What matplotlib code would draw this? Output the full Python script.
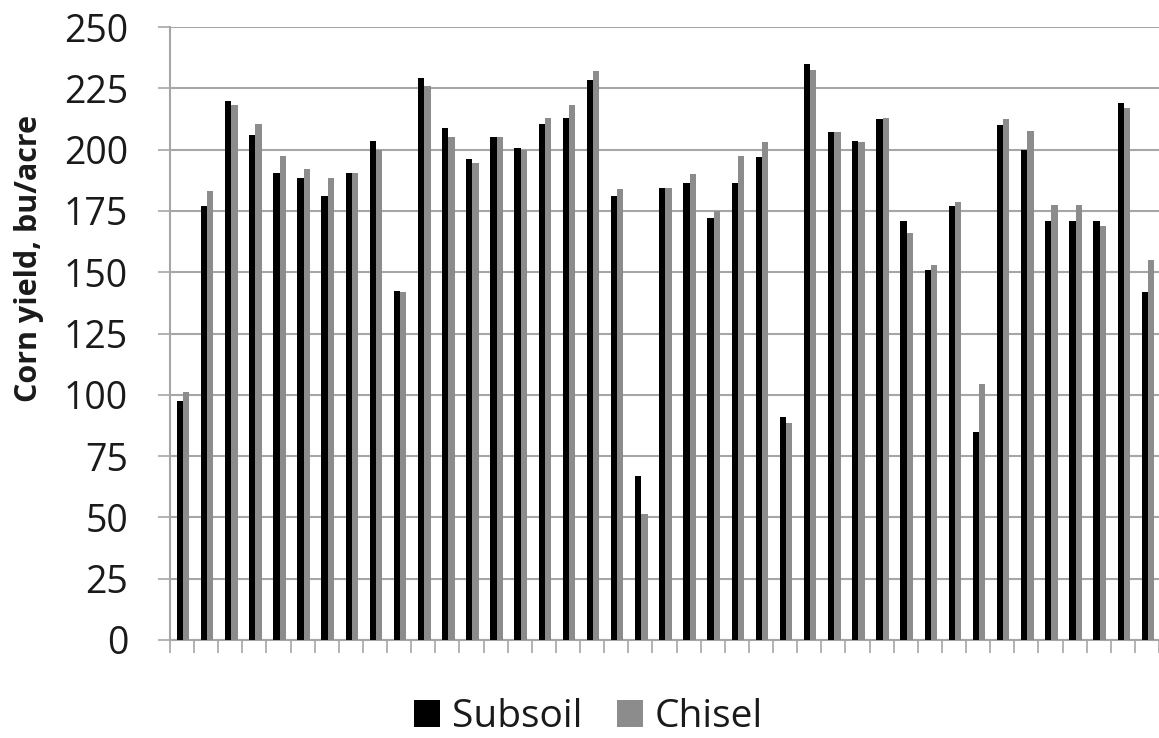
import matplotlib

matplotlib.use("Agg")
import matplotlib.pyplot as plt  # noqa: E402
import numpy as np  # noqa: E402

plt.rcParams["font.family"] = ["Open Sans", "DejaVu Sans"]

# valores (bu/acre), um par por local
subsoil = [97.5, 177, 220, 206, 190.5, 188.5, 181, 190.5, 203.5, 142.5,
           229, 209, 196, 205, 200.5, 210.5, 213, 228.5, 181, 67,
           184.5, 186.5, 172, 186.5, 197, 91, 235, 207, 203.5, 212.5,
           171, 151, 177, 85, 210, 200, 171, 171, 171, 219, 142]
chisel = [101, 183, 218, 210.5, 197.5, 192, 188.5, 190.5, 200, 142,
          226, 205, 194.5, 205, 200, 213, 218, 232, 184, 51.5,
          184.5, 190, 175, 197.5, 203, 88.5, 232.5, 207, 203, 213,
          166, 153, 178.5, 104.5, 212.5, 207.5, 177.5, 177.5, 169, 217, 155]
y_ticks = [0, 25, 50, 75, 100, 125, 150, 175, 200, 225, 250]

GRID = "#a6a6a6"
TXT = "#1a1a1a"
x = np.arange(len(subsoil))

fig = plt.figure(figsize=(11.59, 7.38), dpi=100)
ax = fig.add_axes([170 / 1159, 98 / 738, 989 / 1159, 613 / 738])

ax.bar(x - 0.09, subsoil, width=0.26, color="black", label="Subsoil", zorder=3)
ax.bar(x + 0.17, chisel, width=0.26, color="#8c8c8c", label="Chisel", zorder=3)

ax.set_ylim(0, 250)
ax.set_xlim(-0.5, 40.17)
ax.set_yticks(y_ticks)
ax.yaxis.grid(True, color=GRID, linewidth=1.5, zorder=0)
ax.set_xticks(np.arange(-0.5, len(subsoil), 1.0))
ax.set_xticklabels([])
ax.tick_params(axis="x", length=9, width=1.2, color=GRID, direction="out")
ax.tick_params(axis="y", length=8.6, width=1.2, color=GRID, direction="out",
               labelsize=27, pad=21.5, labelcolor=TXT)

for side in ("top", "right"):
    ax.spines[side].set_visible(False)
for side in ("left", "bottom"):
    ax.spines[side].set_color(GRID)
    ax.spines[side].set_linewidth(1.5)

fig.text(29 / 1159, 1 - 259 / 738, "Corn yield, bu/acre", rotation=90,
         ha="center", va="center", fontsize=22, fontweight="bold", color=TXT)

fig.legend(loc="center", bbox_to_anchor=(0.508, 0.028), ncol=2, frameon=False,
           fontsize=28, handlelength=0.67, handleheight=0.67, handletextpad=0.31,
           columnspacing=0.87, labelcolor=TXT)

plt.savefig("out.png", dpi=100)
plt.close()
